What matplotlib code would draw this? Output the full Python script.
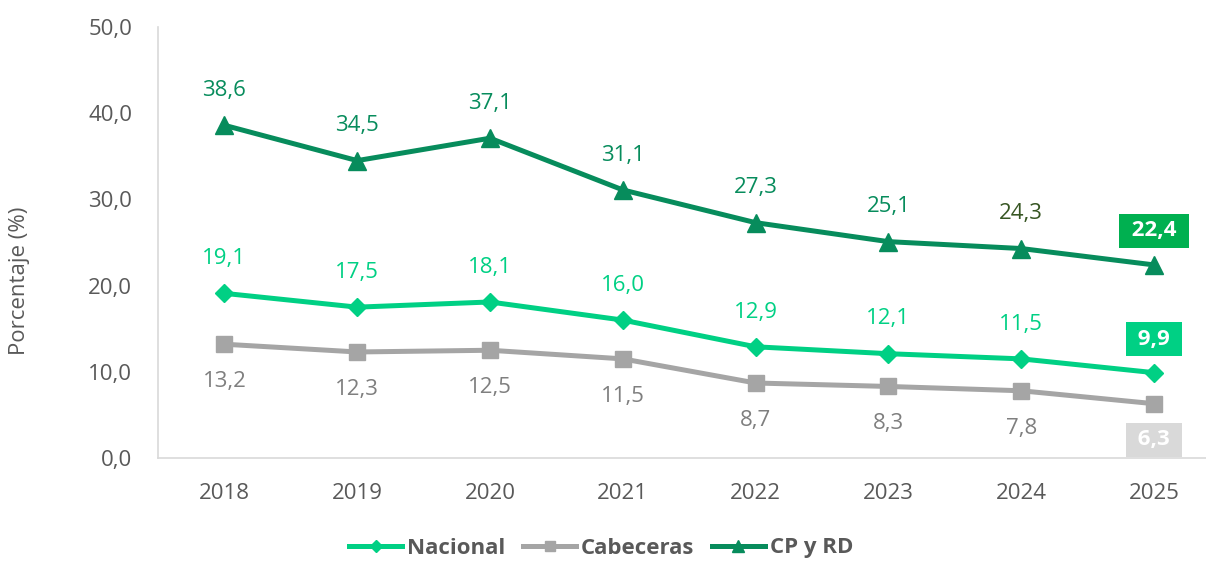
import matplotlib.pyplot as plt
import numpy as np

plt.rcParams['font.family'] = ['Open Sans', 'DejaVu Sans']

years = ['2018', '2019', '2020', '2021', '2022', '2023', '2024', '2025']
nacional = [19.1, 17.5, 18.1, 16.0, 12.9, 12.1, 11.5, 9.9]
cabeceras = [13.2, 12.3, 12.5, 11.5, 8.7, 8.3, 7.8, 6.3]
cpyrd = [38.6, 34.5, 37.1, 31.1, 27.3, 25.1, 24.3, 22.4]

c_nac = '#00D084'
c_cab = '#A5A5A5'
c_cp = '#078C5C'

fig = plt.figure(figsize=(12.06, 5.61), dpi=100)
ax = fig.add_axes([158/1206, 103/561, 1 - 158/1206, 431/561])

x = np.arange(len(years))
ax.plot(x, nacional, color=c_nac, lw=3.6, marker='D', ms=9, label='Nacional')
ax.plot(x, cabeceras, color=c_cab, lw=3.6, marker='s', ms=11, label='Cabeceras')
ax.plot(x, cpyrd, color=c_cp, lw=3.6, marker='^', ms=13, label='CP y RD')

def fmt(v):
    return f'{v:.1f}'.replace('.', ',')

fs = 16
last = len(years) - 1
for i in range(last):
    ax.annotate(fmt(cpyrd[i]), (x[i], cpyrd[i]), xytext=(0, 25), textcoords='offset points',
                ha='center', va='center', fontsize=fs,
                color='#375623' if i == 6 else c_cp)
    ax.annotate(fmt(nacional[i]), (x[i], nacional[i]), xytext=(0, 25), textcoords='offset points',
                ha='center', va='center', fontsize=fs, color=c_nac)
    ax.annotate(fmt(cabeceras[i]), (x[i], cabeceras[i]), xytext=(0, -27), textcoords='offset points',
                ha='center', va='center', fontsize=fs, color='#7F7F7F')

box_specs = [(cpyrd, '#00B050', 24.5), (nacional, '#00D084', 24), (cabeceras, '#D9D9D9', -26)]
for series, bg, off in box_specs:
    ax.annotate(' ' + fmt(series[last]) + ' ', (x[last], series[last]), xytext=(0, off),
                textcoords='offset points', ha='center', va='center', fontsize=fs,
                fontweight='bold', color='white',
                bbox=dict(boxstyle='square,pad=0.3', fc=bg, ec='none'))

ax.set_xlim(-0.5, (1206 - 224) / 132.86)
ax.set_ylim(0, 50)
ax.set_yticks(np.arange(0, 51, 10))
ax.set_yticklabels([fmt(v) for v in np.arange(0, 51, 10)])
ax.set_xticks(x)
ax.set_xticklabels(years)
ax.tick_params(length=0, labelsize=fs, labelcolor='#595959')
ax.tick_params(axis='x', pad=18)
ax.tick_params(axis='y', pad=18.5)
for s in ['top', 'right']:
    ax.spines[s].set_visible(False)
ax.spines['left'].set_color('#D9D9D9')
ax.spines['bottom'].set_color('#D9D9D9')
ax.spines['left'].set_linewidth(1.2)
ax.spines['bottom'].set_linewidth(1.2)
ax.set_ylabel('Porcentaje (%)', fontsize=fs, color='#595959')
ax.yaxis.set_label_coords((30 - 158) / 1048, (458 - 281) / 431)

leg = fig.legend(loc='center', bbox_to_anchor=(601/1206, 1 - 548/561), ncol=3, frameon=False,
                 prop={'size': fs, 'weight': 'bold'}, handlelength=2.4, columnspacing=0.8,
                 handletextpad=0.2, markerscale=0.65)
for t in leg.get_texts():
    t.set_color('#595959')

fig.savefig('out.png', dpi=100)
